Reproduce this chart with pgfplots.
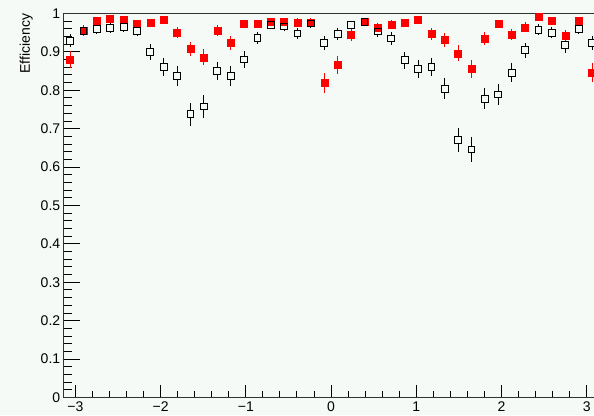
\documentclass[border=0pt]{standalone}
\usepackage{fontspec}
\setmainfont{Liberation Sans}
\usepackage{pgfplots}
\usepackage{pgfplotstable}
\pgfplotsset{compat=1.18}

\definecolor{canvas}{RGB}{245,250,246}

% bin centre, efficiency, uncertainty (40 bins over -pi..pi)
\pgfplotstableread{
x       eff    err
-3.0631 0.929 0.017
-2.9060 0.955 0.014
-2.7489 0.959 0.013
-2.5918 0.962 0.013
-2.4347 0.964 0.013
-2.2777 0.955 0.014
-2.1206 0.900 0.020
-1.9635 0.860 0.023
-1.8064 0.837 0.025
-1.6493 0.738 0.030
-1.4923 0.758 0.029
-1.3352 0.850 0.024
-1.1781 0.837 0.025
-1.0210 0.880 0.022
-0.8639 0.937 0.016
-0.7069 0.971 0.011
-0.5498 0.966 0.012
-0.3927 0.948 0.015
-0.2356 0.974 0.011
-0.0785 0.923 0.018
 0.0785 0.946 0.015
 0.2356 0.969 0.012
 0.3927 0.978 0.010
 0.5498 0.953 0.014
 0.7069 0.935 0.017
 0.8639 0.878 0.022
 1.0210 0.856 0.024
 1.1781 0.860 0.023
 1.3352 0.804 0.027
 1.4923 0.671 0.032
 1.6493 0.646 0.032
 1.8064 0.778 0.028
 1.9635 0.789 0.028
 2.1206 0.846 0.024
 2.2777 0.904 0.020
 2.4347 0.958 0.014
 2.5918 0.950 0.015
 2.7489 0.917 0.019
 2.9060 0.959 0.013
 3.0631 0.924 0.018
}\effopen

\pgfplotstableread{
x       eff    err
-3.0631 0.880 0.022
-2.9060 0.955 0.014
-2.7489 0.980 0.009
-2.5918 0.987 0.008
-2.4347 0.984 0.008
-2.2777 0.972 0.011
-2.1206 0.976 0.010
-1.9635 0.984 0.008
-1.8064 0.951 0.015
-1.6493 0.908 0.019
-1.4923 0.886 0.021
-1.3352 0.956 0.014
-1.1781 0.923 0.018
-1.0210 0.973 0.011
-0.8639 0.973 0.011
-0.7069 0.979 0.010
-0.5498 0.979 0.010
-0.3927 0.977 0.010
-0.2356 0.977 0.010
-0.0785 0.820 0.026
 0.0785 0.866 0.023
 0.2356 0.944 0.016
 0.3927 0.978 0.010
 0.5498 0.962 0.013
 0.7069 0.971 0.011
 0.8639 0.976 0.010
 1.0210 0.984 0.008
 1.1781 0.947 0.015
 1.3352 0.931 0.017
 1.4923 0.896 0.021
 1.6493 0.856 0.024
 1.8064 0.934 0.017
 1.9635 0.973 0.011
 2.1206 0.945 0.015
 2.2777 0.964 0.013
 2.4347 0.991 0.006
 2.5918 0.980 0.009
 2.7489 0.941 0.016
 2.9060 0.982 0.009
 3.0631 0.846 0.024
}\efffilled

\begin{document}
\begin{tikzpicture}[x=1pt,y=1pt]
\fill[canvas] (0,0) rectangle (594,415);
\begin{axis}[
  at={(63.4pt,17.5pt)}, anchor=south west,
  scale only axis, width=535.3pt, height=384pt,
  xmin=-3.14159, xmax=3.14159, ymin=0, ymax=1,
  axis line style={black!80, line width=1pt},
  tick align=inside, xtick pos=bottom, ytick pos=left,
  xtick={-3,-2,-1,0,1,2,3},
  xticklabels={−3,−2,−1,0,1,2,3},
  minor x tick num=4,
  ytick={0,0.1,0.2,0.3,0.4,0.5,0.6,0.7,0.8,0.9,1},
  yticklabels={0,0.1,0.2,0.3,0.4,0.5,0.6,0.7,0.8,0.9,1},
  minor y tick num=4,
  x tick style={black, line width=1pt, /pgfplots/major tick length=12.5pt, /pgfplots/minor tick length=6.5pt},
  y tick style={black, line width=1pt, /pgfplots/major tick length=17pt, /pgfplots/minor tick length=9pt},
  tick label style={font=\fontsize{14}{16}\selectfont},
  xticklabel style={inner sep=0pt, yshift=-4pt},
  yticklabel style={inner sep=0pt, xshift=-3pt},
  ylabel={Efficiency},
  ylabel style={font=\fontsize{14}{16}\selectfont, inner sep=0pt,
    at={(axis description cs:-0.057,1)}, rotate=0, anchor=south east},
  clip=false,
  error bars/y dir=both, error bars/y explicit,
]
% open markers: bars first, interior masked with the canvas colour
\addplot[black, line width=1pt, only marks, mark=square*, mark size=3.4pt,
  mark options={fill=canvas, draw=black, line width=1pt},
  error bars/error bar style={black, line width=1pt}, error bars/error mark=none]
  table[x=x, y=eff, y error=err] {\effopen};
% filled markers
\addplot[red, only marks, mark=square*, mark size=3.5pt,
  mark options={fill=red, draw=red, line width=0.5pt},
  error bars/error bar style={red, line width=1pt}, error bars/error mark=none]
  table[x=x, y=eff, y error=err] {\efffilled};
% outlines of the open markers on top
\addplot[black, only marks, mark=square, mark size=3.4pt,
  mark options={line width=1pt}, error bars/y dir=none]
  table[x=x, y=eff] {\effopen};
\end{axis}
\pgfresetboundingbox
\path[use as bounding box] (0,0) rectangle (594,415);
\end{tikzpicture}
\end{document}
